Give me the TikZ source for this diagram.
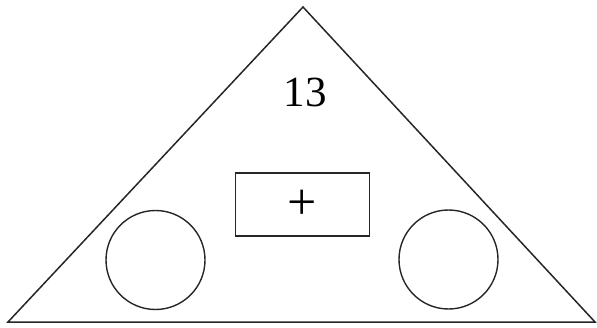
\documentclass[tikz,border=0pt]{standalone}
\usepackage{fontspec}
\setmainfont{Liberation Serif}
\usetikzlibrary{positioning}
\tikzset{
  edge/.style ={draw=black!85, line width=1.5pt},
  hole/.style ={circle, draw=black!85, line width=1.4pt, minimum size=99pt, inner sep=0pt},
  slot/.style ={rectangle, draw=black!85, line width=1.6pt, minimum width=134pt,
                minimum height=63pt, inner sep=0pt, font=\fontsize{52}{56}\selectfont},
  num/.style  ={font=\fontsize{43}{48}\selectfont, inner sep=0pt}
}
\begin{document}
\begin{tikzpicture}[x=1pt, y=1pt]
    \useasboundingbox (0,0) rectangle (597,327);
    \coordinate (apex) at (303,320);
    \coordinate (bl) at (8,5);
    \coordinate (br) at (595,5);
    \draw[edge, line join=miter] (bl) -- (apex) -- (br) -- cycle;
    \node[num] (label) at (305,235) {13};
    \node[slot] (plus) at (302.5,122.5) {+};
    \node[hole] (lhole) at (155.5,67) {};
    \node[hole] (rhole) at (448.5,67.5) {};
  \end{tikzpicture}
\end{document}
